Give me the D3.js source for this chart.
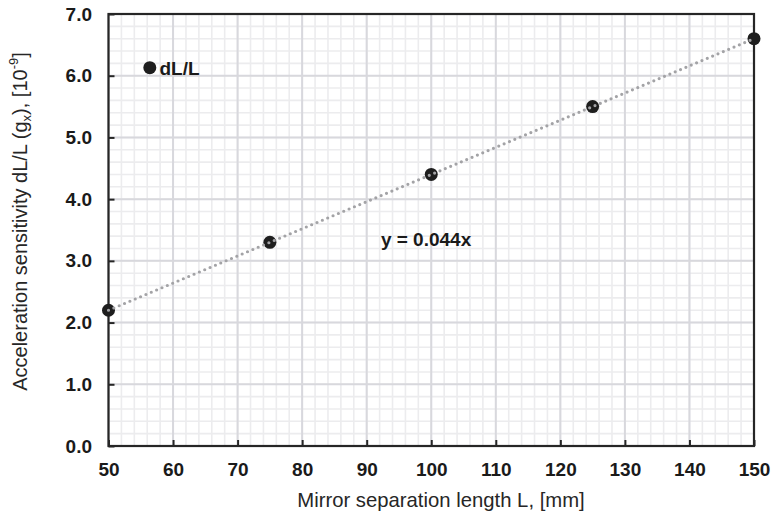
<!DOCTYPE html>
<html>
<head>
<meta charset="utf-8">
<script src="https://cdn.jsdelivr.net/npm/d3@7"></script>
<style>
  html, body { margin: 0; padding: 0; background: #ffffff; }
  svg { display: block; font-family: "Liberation Sans", Arial, sans-serif; }
</style>
</head>
<body>
<svg id="chart" width="773" height="525"></svg>
<script>
// Measured sensitivity vs. mirror separation length
const lengths = [50, 75, 100, 125, 150];
const sensitivity = [2.2, 3.3, 4.4, 5.5, 6.6];
const slope = 0.044;

const xTicks = [50, 60, 70, 80, 90, 100, 110, 120, 130, 140, 150];
const yTicks = [0, 1, 2, 3, 4, 5, 6, 7];
const seriesName = "dL/L";

const svg = d3.select("#chart");
const margin = { left: 108.5, right: 19, top: 14, bottom: 79 };
const W = 773, H = 525;

const x = d3.scaleLinear().domain([50, 150]).range([margin.left, W - margin.right]);
const y = d3.scaleLinear().domain([0, 7]).range([H - margin.bottom, margin.top]);

const [x0, x1] = x.range();
const [y0, y1] = y.range();

// minor grid
const xMinor = d3.range(50, 150.001, 2);
const yMinor = d3.range(0, 7.001, 0.2);
const grid = svg.append("g");
grid.selectAll(".vminor").data(xMinor).join("line")
  .attr("x1", d => x(d)).attr("x2", d => x(d))
  .attr("y1", y0).attr("y2", y1)
  .attr("stroke", "#ececee").attr("stroke-width", 1.6);
grid.selectAll(".hminor").data(yMinor).join("line")
  .attr("y1", d => y(d)).attr("y2", d => y(d))
  .attr("x1", x0).attr("x2", x1)
  .attr("stroke", "#ececee").attr("stroke-width", 1.6);
// major grid
grid.selectAll(".vmajor").data(xTicks).join("line")
  .attr("x1", d => x(d)).attr("x2", d => x(d))
  .attr("y1", y0).attr("y2", y1)
  .attr("stroke", "#d8d8dd").attr("stroke-width", 2);
grid.selectAll(".hmajor").data(yTicks).join("line")
  .attr("y1", d => y(d)).attr("y2", d => y(d))
  .attr("x1", x0).attr("x2", x1)
  .attr("stroke", "#d8d8dd").attr("stroke-width", 2);

// axes with inward ticks
const xAxis = d3.axisBottom(x).tickValues(xTicks).tickSize(-6).tickPadding(17)
  .tickFormat(d3.format("d"));
const yAxis = d3.axisLeft(y).tickValues(yTicks).tickSize(-6).tickPadding(16.5)
  .tickFormat(d3.format(".1f"));

const gx = svg.append("g").attr("transform", `translate(0,${y0})`).call(xAxis);
const gy = svg.append("g").attr("transform", `translate(${x0},0)`).call(yAxis);
[gx, gy].forEach(g => {
  g.select(".domain").remove();
  g.selectAll(".tick line").attr("stroke", "#262626").attr("stroke-width", 2);
  g.selectAll(".tick text")
    .attr("fill", "#1a1a1a")
    .style("font-size", "19px")
    .style("font-weight", "bold")
    .style("font-family", "'Liberation Sans', Arial, sans-serif");
});

// plot frame
svg.append("rect")
  .attr("x", x0).attr("y", y1)
  .attr("width", x1 - x0).attr("height", y0 - y1)
  .attr("fill", "none").attr("stroke", "#262626").attr("stroke-width", 2.2);

// data points
svg.append("g").selectAll("circle").data(lengths).join("circle")
  .attr("cx", d => x(d))
  .attr("cy", (d, i) => y(sensitivity[i]))
  .attr("r", 6.5)
  .attr("fill", "#1e1e1e");

// linear fit through origin, dotted
svg.append("line")
  .attr("x1", x(50)).attr("y1", y(slope * 50))
  .attr("x2", x(150)).attr("y2", y(slope * 150))
  .attr("stroke", "#a3a3a6").attr("stroke-width", 3.2)
  .attr("stroke-linecap", "round")
  .attr("stroke-dasharray", "0 5.8");

// fit equation
svg.append("text")
  .attr("x", x(92.2)).attr("y", y(3.24))
  .attr("fill", "#1a1a1a")
  .style("font-size", "19px").style("font-weight", "bold")
  .text("y = 0.044x");

// legend
svg.append("circle").attr("cx", x(56.4)).attr("cy", y(6.13)).attr("r", 6.5).attr("fill", "#1e1e1e");
svg.append("text")
  .attr("x", 159.5).attr("y", y(6.13) + 7)
  .attr("fill", "#1a1a1a")
  .style("font-size", "19px").style("font-weight", "bold")
  .text(seriesName);

// axis titles
svg.append("text")
  .attr("x", 441).attr("y", 507)
  .attr("text-anchor", "middle")
  .attr("fill", "#262626")
  .style("font-size", "20.3px")
  .text("Mirror separation length L, [mm]");

const yt = svg.append("text")
  .attr("transform", `translate(27,221.5) rotate(-90)`)
  .attr("text-anchor", "middle")
  .attr("fill", "#262626")
  .style("font-size", "20px");
yt.append("tspan").text("Acceleration sensitivity dL/L (g");
yt.append("tspan").attr("dy", 4).style("font-size", "13px").text("x");
yt.append("tspan").attr("dy", -4).text("), [10");
yt.append("tspan").attr("dy", -9).style("font-size", "13px").text("-9");
yt.append("tspan").attr("dy", 9).text("]");
</script>
</body>
</html>
